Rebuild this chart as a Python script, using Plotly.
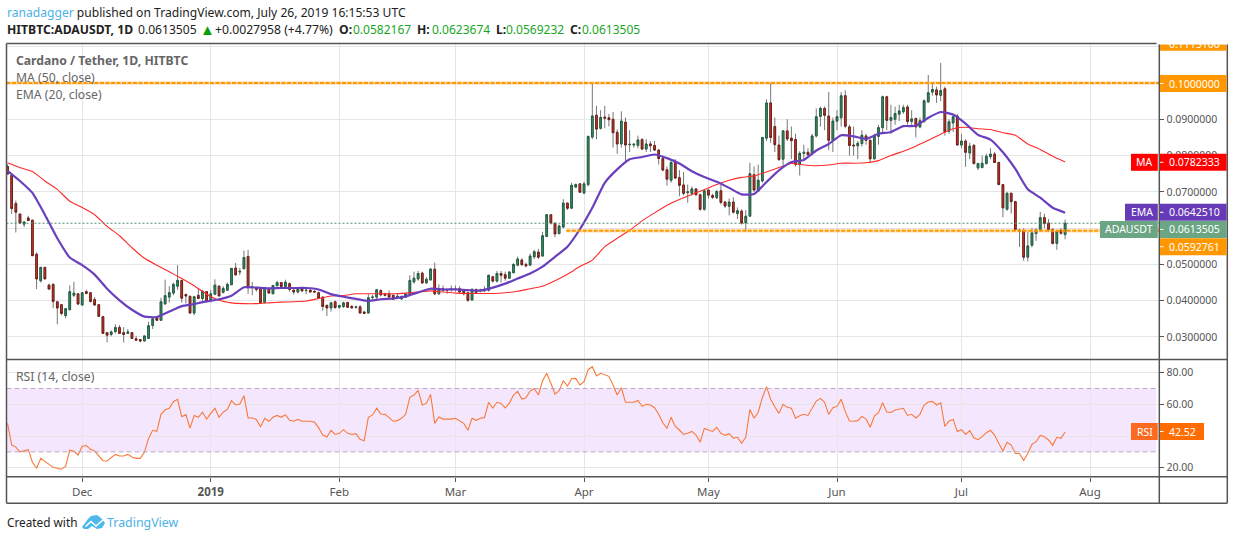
import pandas as pd
import plotly.graph_objects as go
from plotly.subplots import make_subplots

W, H = 1234, 540

# daily candles from 2018-11-13 to 2019-07-26
open_ = [
    0.0770, 0.0745, 0.0668, 0.0639, 0.0611, 0.0628, 0.0622, 0.0528, 0.0455, 0.0492,
    0.0443, 0.0445, 0.0397, 0.0389, 0.0359, 0.0375, 0.0415, 0.0419, 0.0388, 0.0425,
    0.0422, 0.0403, 0.0389, 0.0356, 0.0312, 0.0307, 0.0315, 0.0326, 0.0312, 0.0310,
    0.0312, 0.0295, 0.0293, 0.0289, 0.0296, 0.0332, 0.0353, 0.0346, 0.0391, 0.0410,
    0.0421, 0.0440, 0.0456, 0.0417, 0.0412, 0.0366, 0.0415, 0.0406, 0.0425, 0.0401,
    0.0418, 0.0440, 0.0423, 0.0429, 0.0444, 0.0490, 0.0479, 0.0488, 0.0522, 0.0437,
    0.0436, 0.0433, 0.0395, 0.0431, 0.0419, 0.0441, 0.0450, 0.0439, 0.0447, 0.0429,
    0.0424, 0.0433, 0.0428, 0.0429, 0.0426, 0.0422, 0.0410, 0.0387, 0.0380, 0.0397,
    0.0382, 0.0384, 0.0395, 0.0384, 0.0382, 0.0383, 0.0369, 0.0366, 0.0409, 0.0410,
    0.0428, 0.0418, 0.0419, 0.0415, 0.0410, 0.0405, 0.0410, 0.0418, 0.0452, 0.0460,
    0.0476, 0.0449, 0.0457, 0.0487, 0.0419, 0.0433, 0.0430, 0.0431, 0.0432, 0.0433,
    0.0426, 0.0422, 0.0402, 0.0431, 0.0427, 0.0431, 0.0429, 0.0466, 0.0454, 0.0475,
    0.0472, 0.0462, 0.0477, 0.0498, 0.0512, 0.0500, 0.0498, 0.0521, 0.0534, 0.0523,
    0.0577, 0.0637, 0.0614, 0.0585, 0.0603, 0.0669, 0.0655, 0.0713, 0.0722, 0.0697,
    0.0720, 0.0851, 0.0911, 0.0875, 0.0906, 0.0904, 0.0900, 0.0864, 0.0832, 0.0892,
    0.0830, 0.0829, 0.0828, 0.0844, 0.0818, 0.0832, 0.0828, 0.0815, 0.0792, 0.0761,
    0.0732, 0.0781, 0.0739, 0.0719, 0.0698, 0.0696, 0.0708, 0.0692, 0.0652, 0.0705,
    0.0690, 0.0684, 0.0703, 0.0672, 0.0660, 0.0672, 0.0640, 0.0647, 0.0615, 0.0633,
    0.0747, 0.0702, 0.0730, 0.0848, 0.0945, 0.0880, 0.0829, 0.0790, 0.0868, 0.0848,
    0.0844, 0.0775, 0.0806, 0.0809, 0.0806, 0.0854, 0.0908, 0.0930, 0.0909, 0.0842,
    0.0895, 0.0904, 0.0965, 0.0879, 0.0829, 0.0827, 0.0833, 0.0854, 0.0842, 0.0791,
    0.0853, 0.0877, 0.0962, 0.0897, 0.0900, 0.0914, 0.0921, 0.0934, 0.0894, 0.0902,
    0.0879, 0.0894, 0.0948, 0.0975, 0.0981, 0.0966, 0.0984, 0.0867, 0.0890, 0.0909,
    0.0829, 0.0840, 0.0807, 0.0828, 0.0766, 0.0767, 0.0778, 0.0797, 0.0804, 0.0781,
    0.0720, 0.0652, 0.0696, 0.0673, 0.0595, 0.0593, 0.0520, 0.0553, 0.0585, 0.0596,
    0.0629, 0.0614, 0.0596, 0.0558, 0.0594, 0.0582167,
]
high = [
    0.0776, 0.0745, 0.0676, 0.0639, 0.0619, 0.0634, 0.0622, 0.0533, 0.0492, 0.0492,
    0.0447, 0.0448, 0.0397, 0.0389, 0.0378, 0.0442, 0.0452, 0.0421, 0.0422, 0.0430,
    0.0423, 0.0410, 0.0389, 0.0358, 0.0312, 0.0318, 0.0335, 0.0333, 0.0327, 0.0322,
    0.0314, 0.0303, 0.0293, 0.0303, 0.0342, 0.0350, 0.0353, 0.0408, 0.0458, 0.0440,
    0.0450, 0.0498, 0.0456, 0.0420, 0.0414, 0.0413, 0.0435, 0.0430, 0.0425, 0.0430,
    0.0459, 0.0443, 0.0440, 0.0450, 0.0489, 0.0504, 0.0490, 0.0538, 0.0540, 0.0452,
    0.0438, 0.0433, 0.0438, 0.0431, 0.0443, 0.0455, 0.0450, 0.0458, 0.0450, 0.0433,
    0.0437, 0.0437, 0.0434, 0.0431, 0.0428, 0.0425, 0.0412, 0.0390, 0.0397, 0.0400,
    0.0388, 0.0397, 0.0397, 0.0388, 0.0386, 0.0388, 0.0369, 0.0418, 0.0416, 0.0432,
    0.0432, 0.0422, 0.0428, 0.0417, 0.0420, 0.0412, 0.0419, 0.0470, 0.0480, 0.0482,
    0.0480, 0.0465, 0.0490, 0.0505, 0.0445, 0.0442, 0.0433, 0.0442, 0.0442, 0.0440,
    0.0428, 0.0424, 0.0435, 0.0433, 0.0433, 0.0440, 0.0472, 0.0468, 0.0482, 0.0482,
    0.0480, 0.0482, 0.0503, 0.0522, 0.0517, 0.0505, 0.0530, 0.0540, 0.0543, 0.0590,
    0.0637, 0.0637, 0.0614, 0.0610, 0.0680, 0.0670, 0.0725, 0.0723, 0.0722, 0.0728,
    0.0853, 0.1000, 0.0937, 0.0925, 0.0937, 0.0915, 0.0920, 0.0872, 0.0922, 0.0905,
    0.0870, 0.0835, 0.0855, 0.0848, 0.0845, 0.0840, 0.0840, 0.0817, 0.0800, 0.0770,
    0.0785, 0.0790, 0.0760, 0.0755, 0.0720, 0.0715, 0.0710, 0.0695, 0.0708, 0.0708,
    0.0695, 0.0705, 0.0720, 0.0675, 0.0682, 0.0685, 0.0657, 0.0652, 0.0650, 0.0780,
    0.0770, 0.0775, 0.0850, 0.0955, 0.1000, 0.0905, 0.0855, 0.0870, 0.0900, 0.0880,
    0.0860, 0.0812, 0.0830, 0.0820, 0.0860, 0.0930, 0.0935, 0.0935, 0.0975, 0.0905,
    0.0925, 0.0975, 0.0980, 0.0885, 0.0880, 0.0840, 0.0870, 0.0860, 0.0845, 0.0860,
    0.0885, 0.0965, 0.0965, 0.0940, 0.0935, 0.0940, 0.0940, 0.0940, 0.0925, 0.0905,
    0.0905, 0.0955, 0.1022, 0.1000, 0.0990, 0.1055, 0.0990, 0.0900, 0.0912, 0.0915,
    0.0860, 0.0845, 0.0835, 0.0832, 0.0780, 0.0800, 0.0805, 0.0820, 0.0810, 0.0783,
    0.0722, 0.0700, 0.0698, 0.0675, 0.0598, 0.0600, 0.0590, 0.0600, 0.0600, 0.0645,
    0.0640, 0.0625, 0.0600, 0.0595, 0.0600, 0.0623674,
]
low = [
    0.0749, 0.0639, 0.0588, 0.0612, 0.0603, 0.0621, 0.0524, 0.0432, 0.0450, 0.0460,
    0.0432, 0.0380, 0.0335, 0.0360, 0.0352, 0.0375, 0.0410, 0.0388, 0.0388, 0.0418,
    0.0395, 0.0388, 0.0357, 0.0310, 0.0285, 0.0302, 0.0310, 0.0308, 0.0285, 0.0310,
    0.0296, 0.0290, 0.0285, 0.0288, 0.0296, 0.0322, 0.0346, 0.0346, 0.0390, 0.0395,
    0.0415, 0.0430, 0.0395, 0.0392, 0.0366, 0.0360, 0.0406, 0.0400, 0.0395, 0.0395,
    0.0415, 0.0413, 0.0420, 0.0429, 0.0444, 0.0471, 0.0470, 0.0488, 0.0419, 0.0415,
    0.0425, 0.0392, 0.0395, 0.0421, 0.0419, 0.0441, 0.0439, 0.0437, 0.0425, 0.0417,
    0.0420, 0.0425, 0.0418, 0.0422, 0.0424, 0.0407, 0.0372, 0.0358, 0.0370, 0.0378,
    0.0378, 0.0380, 0.0382, 0.0380, 0.0378, 0.0366, 0.0363, 0.0366, 0.0403, 0.0405,
    0.0412, 0.0412, 0.0405, 0.0402, 0.0405, 0.0402, 0.0408, 0.0415, 0.0447, 0.0455,
    0.0447, 0.0447, 0.0457, 0.0415, 0.0417, 0.0425, 0.0419, 0.0425, 0.0425, 0.0420,
    0.0415, 0.0397, 0.0400, 0.0420, 0.0423, 0.0425, 0.0425, 0.0450, 0.0450, 0.0450,
    0.0455, 0.0462, 0.0477, 0.0495, 0.0497, 0.0492, 0.0498, 0.0515, 0.0515, 0.0523,
    0.0577, 0.0610, 0.0575, 0.0583, 0.0600, 0.0650, 0.0655, 0.0712, 0.0699, 0.0693,
    0.0715, 0.0845, 0.0845, 0.0872, 0.0875, 0.0880, 0.0822, 0.0805, 0.0822, 0.0780,
    0.0810, 0.0822, 0.0820, 0.0815, 0.0810, 0.0810, 0.0815, 0.0775, 0.0757, 0.0717,
    0.0725, 0.0735, 0.0688, 0.0690, 0.0670, 0.0690, 0.0690, 0.0648, 0.0648, 0.0682,
    0.0680, 0.0680, 0.0665, 0.0655, 0.0635, 0.0640, 0.0625, 0.0610, 0.0590, 0.0632,
    0.0700, 0.0700, 0.0725, 0.0840, 0.0835, 0.0810, 0.0785, 0.0770, 0.0840, 0.0790,
    0.0770, 0.0745, 0.0790, 0.0800, 0.0800, 0.0850, 0.0880, 0.0870, 0.0815, 0.0810,
    0.0870, 0.0880, 0.0875, 0.0800, 0.0800, 0.0790, 0.0825, 0.0830, 0.0780, 0.0790,
    0.0830, 0.0860, 0.0870, 0.0860, 0.0885, 0.0895, 0.0915, 0.0885, 0.0880, 0.0850,
    0.0875, 0.0890, 0.0945, 0.0965, 0.0945, 0.0950, 0.0855, 0.0860, 0.0865, 0.0829,
    0.0820, 0.0769, 0.0790, 0.0775, 0.0760, 0.0765, 0.0775, 0.0790, 0.0780, 0.0720,
    0.0630, 0.0648, 0.0640, 0.0596, 0.0548, 0.0510, 0.0508, 0.0547, 0.0565, 0.0590,
    0.0600, 0.0590, 0.0555, 0.0540, 0.0582, 0.0569232,
]
close = [
    0.0749, 0.0654, 0.0644, 0.0614, 0.0617, 0.0621, 0.0524, 0.0460, 0.0492, 0.0460,
    0.0432, 0.0398, 0.0380, 0.0365, 0.0378, 0.0425, 0.0421, 0.0391, 0.0422, 0.0420,
    0.0398, 0.0388, 0.0357, 0.0310, 0.0305, 0.0314, 0.0326, 0.0310, 0.0307, 0.0314,
    0.0296, 0.0291, 0.0289, 0.0303, 0.0331, 0.0350, 0.0346, 0.0397, 0.0414, 0.0422,
    0.0445, 0.0456, 0.0407, 0.0413, 0.0366, 0.0411, 0.0406, 0.0426, 0.0398, 0.0419,
    0.0443, 0.0413, 0.0434, 0.0445, 0.0489, 0.0471, 0.0481, 0.0519, 0.0436, 0.0438,
    0.0431, 0.0395, 0.0436, 0.0421, 0.0442, 0.0450, 0.0439, 0.0451, 0.0431, 0.0424,
    0.0434, 0.0427, 0.0429, 0.0424, 0.0424, 0.0407, 0.0384, 0.0380, 0.0394, 0.0381,
    0.0387, 0.0394, 0.0382, 0.0380, 0.0383, 0.0366, 0.0365, 0.0408, 0.0410, 0.0430,
    0.0416, 0.0415, 0.0410, 0.0404, 0.0412, 0.0412, 0.0419, 0.0456, 0.0462, 0.0475,
    0.0449, 0.0459, 0.0487, 0.0419, 0.0433, 0.0429, 0.0429, 0.0432, 0.0431, 0.0424,
    0.0419, 0.0401, 0.0431, 0.0423, 0.0429, 0.0427, 0.0470, 0.0454, 0.0475, 0.0470,
    0.0462, 0.0479, 0.0500, 0.0515, 0.0499, 0.0496, 0.0523, 0.0535, 0.0520, 0.0579,
    0.0637, 0.0614, 0.0584, 0.0606, 0.0669, 0.0655, 0.0718, 0.0720, 0.0699, 0.0722,
    0.0853, 0.0909, 0.0873, 0.0905, 0.0903, 0.0899, 0.0863, 0.0832, 0.0895, 0.0829,
    0.0831, 0.0831, 0.0843, 0.0818, 0.0832, 0.0827, 0.0815, 0.0792, 0.0760, 0.0735,
    0.0781, 0.0738, 0.0718, 0.0696, 0.0700, 0.0708, 0.0692, 0.0652, 0.0703, 0.0691,
    0.0685, 0.0701, 0.0671, 0.0661, 0.0672, 0.0644, 0.0648, 0.0614, 0.0633, 0.0750,
    0.0705, 0.0732, 0.0850, 0.0945, 0.0850, 0.0830, 0.0789, 0.0868, 0.0846, 0.0841,
    0.0776, 0.0806, 0.0809, 0.0802, 0.0854, 0.0907, 0.0930, 0.0911, 0.0842, 0.0895,
    0.0907, 0.0965, 0.0881, 0.0828, 0.0827, 0.0834, 0.0856, 0.0842, 0.0791, 0.0854,
    0.0877, 0.0962, 0.0897, 0.0905, 0.0916, 0.0923, 0.0932, 0.0894, 0.0901, 0.0879,
    0.0896, 0.0951, 0.0973, 0.0982, 0.0967, 0.0979, 0.0865, 0.0893, 0.0907, 0.0829,
    0.0840, 0.0809, 0.0826, 0.0778, 0.0778, 0.0779, 0.0798, 0.0804, 0.0781, 0.0720,
    0.0656, 0.0696, 0.0673, 0.0596, 0.0592, 0.0520, 0.0551, 0.0587, 0.0595, 0.0629,
    0.0613, 0.0596, 0.0558, 0.0591, 0.0586, 0.0613505,
]

# moving averages, read every third candle
ma50 = [
    0.0780, 0.0767, 0.0756, 0.0730, 0.0707, 0.0674, 0.0657, 0.0637, 0.0605, 0.0579,
    0.0546, 0.0517, 0.0498, 0.0480, 0.0461, 0.0441, 0.0418, 0.0401, 0.0394, 0.0392,
    0.0392, 0.0394, 0.0396, 0.0397, 0.0399, 0.0406, 0.0413, 0.0414, 0.0419, 0.0419,
    0.0419, 0.0419, 0.0421, 0.0424, 0.0427, 0.0424, 0.0421, 0.0420, 0.0420, 0.0420,
    0.0422, 0.0426, 0.0433, 0.0440, 0.0455, 0.0473, 0.0494, 0.0512, 0.0549, 0.0572,
    0.0594, 0.0620, 0.0642, 0.0663, 0.0679, 0.0693, 0.0706, 0.0720, 0.0732, 0.0740,
    0.0744, 0.0755, 0.0767, 0.0778, 0.0774, 0.0772, 0.0774, 0.0779, 0.0779, 0.0780,
    0.0786, 0.0800, 0.0812, 0.0826, 0.0842, 0.0859, 0.0874, 0.0878, 0.0874, 0.0872,
    0.0863, 0.0856, 0.0832, 0.0817, 0.0798, 0.0782333,
]
ema20 = [
    0.0758, 0.0730, 0.0697, 0.0637, 0.0572, 0.0519, 0.0498, 0.0472, 0.0433, 0.0401,
    0.0375, 0.0356, 0.0355, 0.0370, 0.0385, 0.0391, 0.0398, 0.0404, 0.0414, 0.0437,
    0.0436, 0.0434, 0.0435, 0.0435, 0.0435, 0.0431, 0.0418, 0.0411, 0.0405, 0.0399,
    0.0404, 0.0406, 0.0412, 0.0423, 0.0433, 0.0431, 0.0431, 0.0429, 0.0428, 0.0436,
    0.0447, 0.0461, 0.0475, 0.0494, 0.0521, 0.0549, 0.0597, 0.0656, 0.0725, 0.0762,
    0.0790, 0.0796, 0.0803, 0.0793, 0.0778, 0.0757, 0.0741, 0.0728, 0.0711, 0.0693,
    0.0694, 0.0727, 0.0759, 0.0782, 0.0788, 0.0814, 0.0832, 0.0856, 0.0853, 0.0846,
    0.0860, 0.0865, 0.0881, 0.0882, 0.0904, 0.0920, 0.0913, 0.0888, 0.0857, 0.0844,
    0.0809, 0.0763, 0.0707, 0.0684, 0.0656, 0.0642510,
]
rsi = [
    48.0, 34.3, 33.0, 30.0, 30.7, 31.4, 23.4, 19.6, 25.9, 23.8,
    22.0, 20.2, 19.6, 19.0, 21.0, 31.0, 30.5, 28.0, 33.5, 34.0,
    31.6, 30.5, 27.4, 24.4, 24.2, 26.3, 28.4, 27.4, 27.4, 28.4,
    26.7, 25.9, 25.9, 29.7, 38.5, 43.6, 43.0, 53.7, 56.6, 57.5,
    61.7, 63.2, 52.2, 53.5, 45.0, 53.0, 51.8, 55.0, 50.7, 54.3,
    57.5, 51.8, 55.0, 56.8, 62.3, 59.6, 60.2, 65.5, 51.4, 51.4,
    50.5, 45.7, 51.2, 49.3, 51.8, 53.0, 51.8, 53.5, 49.9, 49.3,
    50.5, 49.3, 49.3, 49.3, 48.8, 45.3, 40.6, 39.4, 43.6, 41.0,
    41.7, 44.0, 41.7, 41.0, 41.5, 37.9, 37.0, 51.8, 53.3, 57.5,
    53.9, 53.7, 51.6, 49.3, 49.7, 51.2, 53.7, 64.4, 65.9, 68.8,
    59.6, 60.6, 66.3, 48.0, 52.0, 50.7, 50.7, 50.7, 51.2, 49.5,
    48.0, 43.6, 51.2, 49.9, 51.2, 51.6, 61.3, 57.7, 61.3, 60.6,
    57.7, 60.8, 65.9, 68.2, 63.4, 64.2, 68.4, 70.0, 65.9, 74.7,
    79.6, 73.3, 66.5, 68.6, 75.0, 71.6, 76.2, 76.4, 72.2, 74.3,
    81.9, 83.8, 77.9, 79.6, 78.5, 77.7, 72.2, 65.9, 70.5, 61.3,
    61.3, 61.3, 62.5, 58.7, 60.0, 59.6, 57.9, 53.7, 48.4, 44.8,
    51.8, 46.1, 43.8, 41.0, 41.7, 42.9, 40.6, 36.0, 44.8, 43.6,
    42.9, 45.5, 41.7, 40.4, 41.5, 38.7, 39.2, 35.4, 39.2, 56.8,
    51.2, 55.0, 64.2, 71.2, 63.2, 58.5, 54.3, 60.0, 58.1, 57.5,
    51.2, 52.8, 53.7, 53.0, 57.9, 62.1, 63.8, 61.3, 53.7, 57.9,
    58.7, 63.2, 55.4, 49.5, 49.3, 49.7, 52.4, 50.7, 45.5, 52.6,
    54.7, 61.0, 55.2, 54.9, 56.4, 57.0, 57.5, 53.0, 53.7, 51.4,
    53.7, 59.6, 61.5, 61.9, 59.6, 61.0, 46.1, 49.5, 50.5, 42.9,
    44.0, 41.0, 43.4, 38.9, 37.7, 39.6, 42.1, 43.6, 40.6, 35.4,
    30.5, 36.0, 34.3, 29.0, 29.0, 24.6, 29.0, 34.7, 36.4, 40.4,
    39.6, 37.5, 34.1, 39.2, 38.5, 42.52,
]

assert len(open_) == len(high) == len(low) == len(close) == len(rsi) == 256
assert len(ma50) == len(ema20) == 86

dates = pd.date_range("2018-11-13", periods=256)

month_ticks = ["2018-12-01", "2019-01-01", "2019-02-01", "2019-03-01", "2019-04-01",
               "2019-05-01", "2019-06-01", "2019-07-01", "2019-08-01"]
month_labels = ["Dec", "<b>2019</b>", "Feb", "Mar", "Apr", "May", "Jun", "Jul", "Aug"]
price_ticks = [0.03, 0.04, 0.05, 0.06, 0.07, 0.08, 0.09, 0.10, 0.11]
# 0.06 and 0.10 sit fully behind the value boxes
price_labels = ["0.0300000", "0.0400000", "0.0500000", "", "0.0700000",
                "0.0800000", "0.0900000", "", "0.1100000"]
rsi_ticks = [20, 40, 60, 80]
rsi_labels = ["20.00", "", "60.00", "80.00"]

FONT = "Noto Sans"
GREY = "#555555"
GRID = "#e6e6e6"
ORANGE = "#ff9800"
X_START = "2018-11-12 18:00"
X_END = "2019-08-17 17:00"
AXIS_SIZE = 10.5


def fx(x):
    return x / W


def fy(y):
    return 1 - y / H


fig = make_subplots(rows=2, cols=1, shared_xaxes=True, vertical_spacing=0)

# wicks first, then bodies without wicks so the outline can be darker
fig.add_trace(go.Candlestick(
    x=dates, open=open_, high=high, low=low, close=close,
    increasing=dict(line=dict(color="#777777", width=1), fillcolor="#777777"),
    decreasing=dict(line=dict(color="#777777", width=1), fillcolor="#777777"),
    showlegend=False, hoverinfo="skip"
), row=1, col=1)
body_top = [max(o, c) for o, c in zip(open_, close)]
body_bot = [min(o, c) for o, c in zip(open_, close)]
fig.add_trace(go.Candlestick(
    x=dates, open=open_, high=body_top, low=body_bot, close=close,
    increasing=dict(line=dict(color="#1c5c40", width=0.9), fillcolor="#3f9069"),
    decreasing=dict(line=dict(color="#6e1a12", width=0.9), fillcolor="#c93d2d"),
    showlegend=False, hoverinfo="skip"
), row=1, col=1)

fig.add_trace(go.Scatter(x=dates[::3], y=ma50, mode="lines",
                         line=dict(color="#ff2a2a", width=1.1, shape="spline", smoothing=0.5),
                         showlegend=False), row=1, col=1)
fig.add_trace(go.Scatter(x=dates[::3], y=ema20, mode="lines",
                         line=dict(color="#6a3fbd", width=2.2, shape="spline", smoothing=0.5),
                         showlegend=False), row=1, col=1)
fig.add_trace(go.Scatter(x=dates, y=rsi, mode="lines",
                         line=dict(color="#f9793a", width=1.1), showlegend=False),
              row=2, col=1)

fig.update_xaxes(
    domain=[fx(6.5), fx(1159.3)],
    range=[X_START, X_END],
    tickvals=month_ticks, ticktext=month_labels, tickangle=0,
    showgrid=True, gridcolor=GRID, gridwidth=1,
    zeroline=False, showline=False, rangeslider_visible=False,
    tickfont=dict(family=FONT, size=11.5, color=GREY),
)
fig.update_xaxes(ticks="", showticklabels=False, row=1, col=1)
fig.update_xaxes(ticks="outside", ticklen=4, tickcolor=GREY, showticklabels=True, row=2, col=1)

fig.update_yaxes(
    side="right", showgrid=True, gridcolor=GRID, gridwidth=1, zeroline=False,
    showline=False, ticks="outside", ticklen=4, tickcolor=GREY,
    tickfont=dict(family=FONT, size=AXIS_SIZE, color=GREY),
)
fig.update_yaxes(domain=[fy(359.6), fy(43.3)], range=[0.02377, 0.11094],
                 tickvals=price_ticks, ticktext=price_labels, row=1, col=1)
fig.update_yaxes(domain=[fy(476.7), fy(359.6)], range=[14.3, 88.27],
                 tickvals=rsi_ticks, ticktext=rsi_labels, row=2, col=1)

shapes = []

# RSI band
shapes.append(dict(type="rect", xref="x2", yref="y2", x0=X_START, x1="2019-08-17 00:00",
                   y0=30, y1=70, fillcolor="#f4e7fd", line_width=0, layer="below"))
for level in [30, 70]:
    shapes.append(dict(type="line", xref="x2", yref="y2", x0=X_START, x1="2019-08-17 00:00",
                       y0=level, y1=level, line=dict(color="#b9a9c4", width=1, dash="5px,3px")))

# horizontal levels drawn on the chart
for start, level in [(X_START, 0.10), ("2019-03-27 17:00", 0.0592761)]:
    shapes.append(dict(type="line", xref="x", yref="y", x0=start, x1=X_END,
                       y0=level, y1=level, line=dict(color="rgba(255,152,0,0.22)", width=4)))
    shapes.append(dict(type="line", xref="x", yref="y", x0=start, x1=X_END,
                       y0=level, y1=level, line=dict(color=ORANGE, width=2, dash="4px,1.5px")))
shapes.append(dict(type="line", xref="x", yref="y", x0=X_START, x1=X_END,
                   y0=0.0613505, y1=0.0613505, line=dict(color="#4f8f6f", width=1, dash="2px,2px")))

# frame
for x0, y0, x1, y1 in [(1159.3, 43.5, 1159.3, 503.3), (6.5, 359.6, 1227.3, 359.6),
                       (6.5, 476.7, 1227.3, 476.7), (6.5, 43.5, 6.5, 503.3),
                       (1227.3, 43.5, 1227.3, 503.3), (6.5, 43.5, 1227.3, 43.5),
                       (6.5, 503.3, 1227.3, 503.3)]:
    shapes.append(dict(type="line", xref="paper", yref="paper", x0=fx(x0), x1=fx(x1),
                       y0=fy(y0), y1=fy(y1), line=dict(color=GREY, width=1.5)))

annotations = []


def text(x, y, s, color=GREY, size=12, anchor="left"):
    annotations.append(dict(xref="paper", yref="paper", x=fx(x), y=fy(y), text=s, showarrow=False,
                            xanchor=anchor, yanchor="middle", borderpad=0,
                            font=dict(family=FONT, size=size, color=color)))


def tag(y_mid, value, color, name=None, tag_left=None, right=1226.6, tag_color=None):
    # value box on the price scale with an optional name tag to its left
    y0, y1 = y_mid - 8.5, y_mid + 8.5
    shapes.append(dict(type="rect", xref="paper", yref="paper", x0=fx(1160), x1=fx(right),
                       y0=fy(y0), y1=fy(y1), fillcolor=color, line_width=0))
    shapes.append(dict(type="line", xref="paper", yref="paper", x0=fx(1160), x1=fx(1163.5),
                       y0=fy(y_mid), y1=fy(y_mid), line=dict(color="#ffffff", width=1)))
    text(1168, y_mid, value, "#ffffff", AXIS_SIZE)
    if name:
        shapes.append(dict(type="rect", xref="paper", yref="paper", x0=fx(tag_left), x1=fx(1157.8),
                           y0=fy(y0), y1=fy(y1), fillcolor=tag_color or color, line_width=0))
        text(1154, y_mid, name, "#ffffff", AXIS_SIZE, "right")


# top label is cut by the pane edge
shapes.append(dict(type="rect", xref="paper", yref="paper", x0=fx(1160), x1=fx(1226.6),
                   y0=fy(44.3), y1=fy(50.7), fillcolor=ORANGE, line_width=0))
text(1168, 44, "0.1115100", "#ffffff", AXIS_SIZE)
annotations.append(dict(xref="paper", yref="paper", x=fx(1193), y=fy(37), text=" ", showarrow=False,
                        width=70, height=12, bgcolor="#ffffff", xanchor="center", yanchor="middle"))

tag(83.5, "0.1000000", ORANGE)
tag(162.3, "0.0782333", "#ff0000", "MA", 1131)
tag(212.3, "0.0642510", "#673ab7", "EMA", 1125)
tag(229.4, "0.0613505", "#6ba583", "ADAUSDT", 1100)
tag(246.7, "0.0592761", ORANGE)
tag(431.5, "42.52", "#ff6d00", "RSI", 1131, right=1204, tag_color="#fb6a1e")

# header
DARK = "#222222"
GREEN = "#17a81f"
text(6, 12.5, '<span style="color:#4db2e6">ranadagger</span> published on TradingView.com, July 26, 2019 16:15:53 UTC', DARK, 12.1)
text(6, 29.5, "<b>HITBTC:ADAUSDT, 1D</b>", DARK, 12.2)
text(137, 29.5, "0.0613505", DARK, 12.1)
text(199, 29.5, "▲", "#0b9e0b", 15)
text(214, 29.5, "+0.0027958 (+4.77%)", DARK, 12.2)
for x_key, key, x_val, val in [(338, "O:", 352, "0.0582167"), (416, "H:", 430.5, "0.0623674"),
                               (494.5, "L:", 505, "0.0569232"), (569, "C:", 581, "0.0613505")]:
    text(x_key, 29.5, "<b>%s</b>" % key, DARK, 12.2)
    text(x_val, 29.5, val, GREEN, 12.0)

text(15, 60.7, "<b>Cardano / Tether, 1D, HITBTC</b>", "#666666", 12.2)
text(15, 77.7, "MA (50, close)", "#666666", 12.2)
text(15, 94.7, "EMA (20, close)", "#666666", 12.2)
text(15, 376.7, "RSI (14, close)", "#666666", 12.2)

# footer with logo
text(6, 522, "Created with", DARK, 11.8)
text(106, 522, "TradingView", "#4db2e6", 12.4)


def path(points):
    return "M " + " L ".join("%.5f,%.5f" % (fx(x), fy(y)) for x, y in points) + " Z"


shapes.append(dict(type="path", xref="paper", yref="paper", fillcolor="#4db8ea", line_width=0,
                   path=path([(82, 527), (88, 519), (91, 516), (97, 515), (101, 518), (105, 523),
                              (102, 528), (97, 529), (92, 526), (88, 529), (84, 529)])))
shapes.append(dict(type="path", xref="paper", yref="paper", fillcolor="#ffffff", line_width=0,
                   path=path([(85, 526), (91, 520.5), (96, 525), (103, 519), (104, 520), (96, 527),
                              (91, 522.5), (86, 527)])))

fig.update_layout(
    width=W, height=H, autosize=False,
    margin=dict(l=0, r=0, t=0, b=0, autoexpand=False),
    paper_bgcolor="#ffffff", plot_bgcolor="#ffffff", boxgap=0.42,
    showlegend=False, shapes=shapes, annotations=annotations,
    font=dict(family=FONT, color=GREY),
)

fig.write_html("out.html", config={"displayModeBar": False},
               post_script="document.body.style.margin='0';document.body.style.overflow='hidden';")
